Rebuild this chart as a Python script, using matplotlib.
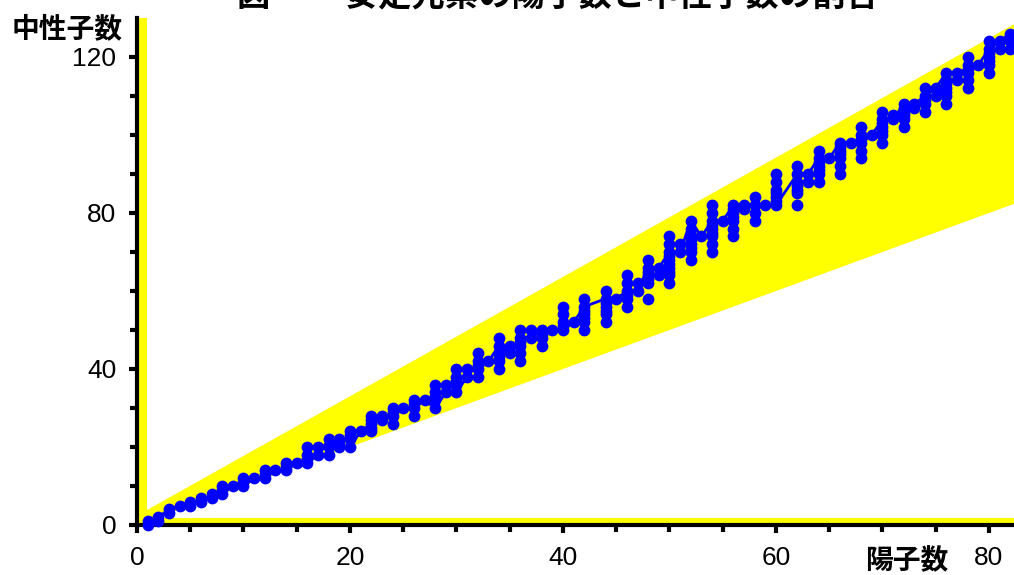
import matplotlib
matplotlib.use("Agg")
import matplotlib.pyplot as plt
from matplotlib.patches import Polygon, Rectangle

# stable isotopes: proton number Z -> neutron numbers N
protons = list(range(1, 84))
neutrons = [
    [0, 1], [1, 2], [3, 4], [5], [5, 6], [6, 7], [7, 8], [8, 9, 10], [10],
    [10, 11, 12], [12], [12, 13, 14], [14], [14, 15, 16], [16], [16, 17, 18, 20],
    [18, 20], [18, 20, 22], [20, 21, 22], [20, 22, 23, 24], [24], [24, 25, 26, 27, 28],
    [27, 28], [26, 28, 29, 30], [30], [28, 30, 31, 32], [32], [30, 32, 33, 34, 36],
    [34, 36], [34, 36, 37, 38, 40], [38, 40], [38, 40, 41, 42, 44], [42],
    [40, 42, 43, 44, 46, 48], [44, 46], [42, 44, 46, 47, 48, 50], [48, 50],
    [46, 48, 49, 50], [50], [50, 51, 52, 54, 56], [52], [50, 52, 53, 54, 55, 56, 58],
    [], [52, 54, 55, 56, 57, 58, 60], [58], [56, 58, 59, 60, 62, 64], [60, 62],
    [58, 62, 63, 64, 65, 66, 68], [64, 66], [62, 64, 65, 66, 67, 68, 69, 70, 72, 74],
    [70, 72], [68, 70, 71, 72, 73, 74, 76, 78], [74], [70, 72, 74, 75, 76, 77, 78, 80, 82],
    [78], [74, 76, 78, 79, 80, 81, 82], [81, 82], [78, 80, 82, 84], [82],
    [82, 83, 84, 85, 86, 88, 90], [], [82, 85, 86, 87, 88, 90, 92], [88, 90],
    [88, 90, 91, 92, 93, 94, 96], [94], [90, 92, 94, 95, 96, 97, 98], [98],
    [94, 96, 98, 99, 100, 102], [100], [98, 100, 101, 102, 103, 104, 106], [104, 105],
    [102, 104, 105, 106, 107, 108], [107, 108], [106, 108, 109, 110, 112], [110, 112],
    [108, 110, 111, 112, 113, 114, 116], [114, 116], [112, 114, 116, 117, 118, 120],
    [118], [116, 118, 119, 120, 121, 122, 124], [122, 124], [122, 124, 125, 126], [126],
]
# most abundant isotope of each element (line)
main_Z = [z for z in protons if z not in (43, 61)]
main_N = [0, 2, 4, 5, 6, 6, 7, 8, 10, 10, 12, 12, 14, 14, 16, 16, 18, 22, 20, 20,
          24, 26, 28, 28, 30, 30, 32, 30, 34, 34, 38, 42, 42, 46, 44, 48, 48, 50, 50,
          50, 52, 56, 58, 58, 60, 60, 66, 66, 70, 70, 78, 74, 78, 78, 82, 82, 82, 82,
          82, 90, 90, 94, 94, 98, 98, 98, 100, 104, 104, 108, 108, 110, 112, 116, 116,
          117, 118, 122, 124, 126, 126]

# band of stability (yellow)
band_lo_slope = 1.0
band_hi_slope, band_hi_icpt = 1.53, 2.4

xs, ys = [], []
for z, ns in zip(protons, neutrons):
    for n in ns:
        xs.append(z)
        ys.append(n)

xmax, ymax = 82.35, 130

fig = plt.figure(figsize=(10.14, 5.75), dpi=100)
ax = fig.add_axes([137 / 1014, 50 / 575, 877 / 1014, 507 / 575])

x0, x1 = 0.9, xmax + 1
ax.add_patch(Polygon([(x0, band_lo_slope * x0), (x0, band_hi_slope * x0 + band_hi_icpt),
                      (x1, band_hi_slope * x1 + band_hi_icpt), (x1, band_lo_slope * x1)],
                     closed=True, facecolor="#ffff00", edgecolor="none", zorder=1))
ax.add_patch(Rectangle((0, 0), 0.9, ymax + 5, facecolor="#ffff00", edgecolor="none", zorder=1))
ax.add_patch(Rectangle((0, 0), xmax + 5, 1.9, facecolor="#ffff00", edgecolor="none", zorder=1))

ax.plot(main_Z, main_N, color="#0000ff", lw=2, zorder=3, clip_on=False)
ax.scatter(xs, ys, s=72, color="#0000ff", linewidths=0, zorder=4, clip_on=False)

ax.set_xlim(0, xmax)
ax.set_ylim(0, ymax)
for s in ("top", "right"):
    ax.spines[s].set_visible(False)
for s in ("left", "bottom"):
    ax.spines[s].set_linewidth(3)
    ax.spines[s].set_zorder(2.5)

ax.set_xticks([0, 20, 40, 60, 80])
ax.set_xticks(range(5, 85, 5), minor=True)
ax.set_yticks([0, 40, 80, 120])
ax.set_yticks(range(10, 130, 10), minor=True)
ax.tick_params(which="major", direction="out", length=6, width=3, labelsize=19, pad=9)
ax.tick_params(which="minor", direction="out", length=5, width=3)
for lab in ax.get_xticklabels() + ax.get_yticklabels():
    lab.set_fontfamily("Liberation Sans")

cjk = ["Noto Sans CJK JP", "DejaVu Sans"]
fig.text(67 / 1014, 1 - 29 / 575, "中性子数", family=cjk, fontsize=20,
         fontweight="bold", ha="center", va="center")
fig.text(907 / 1014, 1 - 561 / 575, "陽子数", family=cjk, fontsize=20,
         fontweight="bold", ha="center", va="center")
fig.text(237 / 1014, 1 - 6 / 575, "図　　 安定元素の陽子数と中性子数の割合", family=cjk,
         fontsize=24, fontweight="bold", ha="left", va="baseline")

fig.savefig("out.png", dpi=100)
